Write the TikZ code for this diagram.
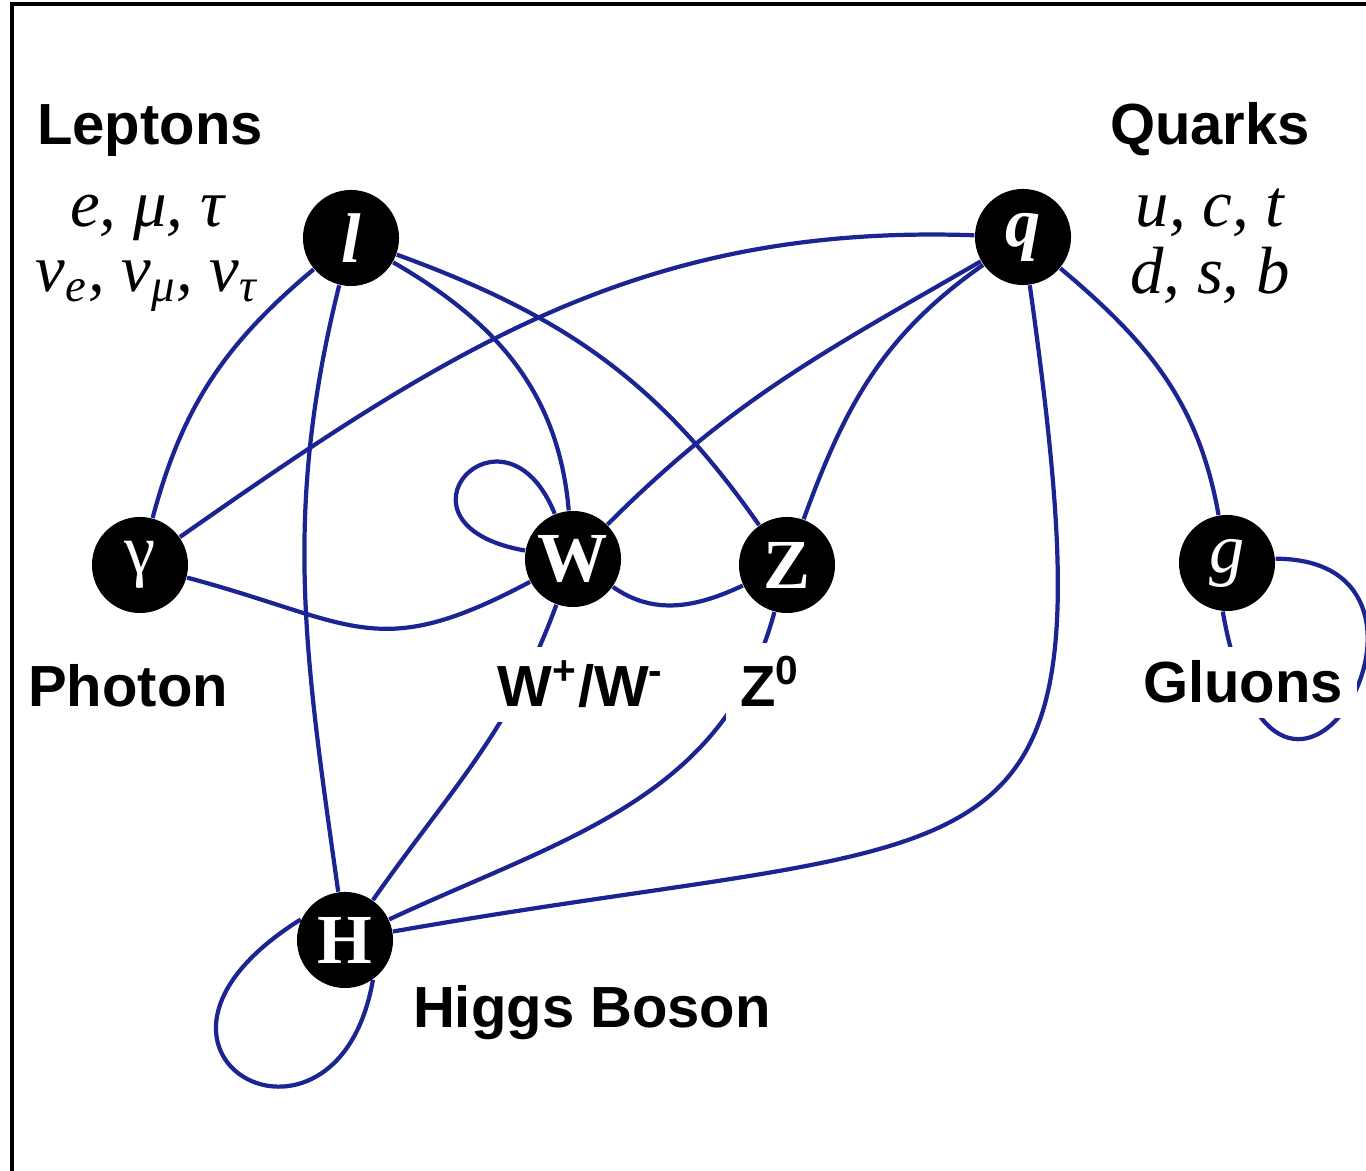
\documentclass[tikz,border=0pt]{standalone}
\usepackage{fontspec}
\setmainfont{Liberation Serif}
\setsansfont{Liberation Sans}
\usepackage{tikz}
\usetikzlibrary{positioning,backgrounds}
\definecolor{linkblue}{RGB}{28,36,148}
\tikzstyle{particle} = [circle, fill=black, text=white, minimum size=0.96cm, inner sep=0pt, font=\fontsize{20}{20}\selectfont\bfseries]
\tikzstyle{link} = [draw=linkblue, line width=1.2pt]
\tikzstyle{tag} = [fill=white, inner sep=4pt, font=\fontsize{16.5}{18}\selectfont\sffamily\bfseries]
\tikzstyle{flavour} = [inner sep=0pt, font=\fontsize{19}{19}\selectfont\itshape]

\begin{document}
\begin{tikzpicture}[x=0.01cm, y=0.01cm]
    \useasboundingbox (0,0) rectangle (1366,-1171);
    % Frame
    \draw[line width=1.4pt] (12,-1171) -- (12,-4) -- (1366,-4);
    % Particles
    \node[particle] (l) at (351,-238) {\textit{l}};
    \node[particle] (q) at (1023,-237) {\textit{q}};
    \node[particle] (gamma) at (140,-565) {\mdseries γ};
    \node[particle] (W) at (573,-559) {W};
    \node[particle] (Z) at (787,-565) {Z};
    \node[particle] (g) at (1227,-563) {\mdseries\textit{g}};
    \node[particle] (H) at (345,-940) {H};
    % Labels
    \node[tag, anchor=base] (leptons) at (150,-145) {Leptons};
    \node[tag, anchor=base] (quarks) at (1210,-145) {Quarks};
    \node[flavour, anchor=base] (charged) at (147,-227) {e, μ, τ};
    \node[flavour, anchor=base] (neutral) at (147,-292) {ν\textsubscript{e}, ν\textsubscript{μ}, ν\textsubscript{τ}};
    \node[flavour, anchor=base] (uptype) at (1210,-227) {u, c, t};
    \node[flavour, anchor=base] (downtype) at (1210,-294) {d, s, b};
    \node[tag, anchor=base] (photon) at (128,-707) {Photon};
    \node[tag, anchor=base] (wlabel) at (581,-707) {W\textsuperscript{+}/W\textsuperscript{-}};
    \node[tag, anchor=base] (zlabel) at (770,-707) {Z\textsuperscript{0}};
    \node[tag, anchor=base] (gluons) at (1243,-703) {Gluons};
    \node[tag, anchor=base] (higgs) at (592,-1028) {Higgs Boson};
    % Interactions
    \begin{scope}[on background layer]
        \draw[link] (l) to[out=220,in=75] (gamma);
        \draw[link] (l) to[out=256,in=98] (H);
        \draw[link] (l) to[out=-30,in=95] (W);
        \draw[link] (l) to[out=-20,in=125] (Z);
        \draw[link] (q) to[out=178,in=35] (gamma);
        \draw[link] (q) to[out=210,in=45] (W);
        \draw[link] (q) to[out=215,in=70] (Z);
        \draw[link] (q) to[out=-82,in=10,looseness=1.8] (H);
        \draw[link] (q) to[out=-40,in=100] (g);
        \draw[link] (gamma) to[out=-15,in=208,looseness=1.3] (W);
        \draw[link] (W) to[out=-35,in=205] (Z);
        \draw[link] (W) to[out=250,in=55] (H);
        \draw[link] (Z) to[out=-105,in=25] (H);
        % self couplings
        \draw[link] (W.170) .. controls +(170:1.5cm) and +(112:1.35cm) .. (W.112);
        \draw[link] (H.155) .. controls +(212:2.5cm) and +(-100:2.1cm) .. (H.-55);
        \draw[link] (g.-95) .. controls +(-80:3.2cm) and +(0:2.1cm) .. (g.5);
    \end{scope}
\end{tikzpicture}
\end{document}
